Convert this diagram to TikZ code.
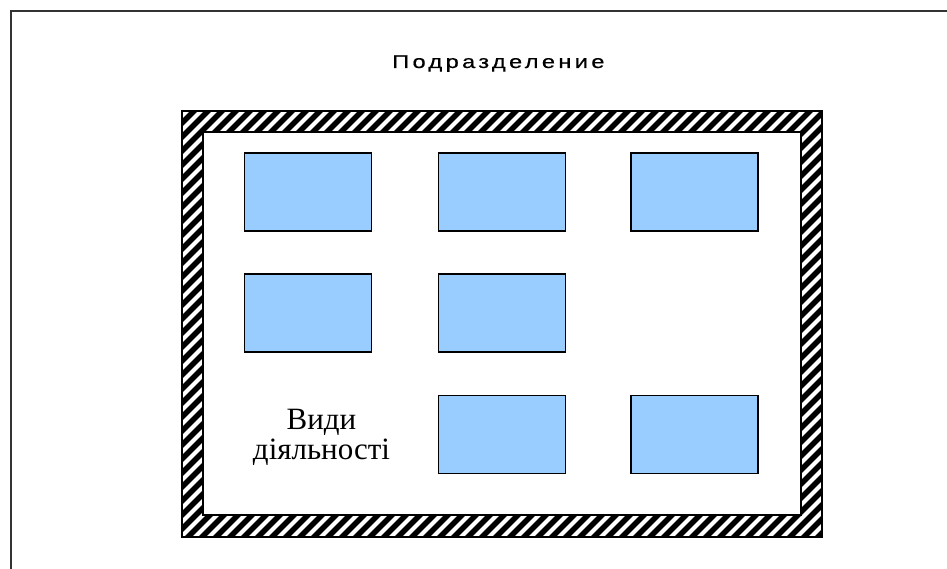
\documentclass[tikz,border=0pt]{standalone}
\usepackage{fontspec}
\usepackage{graphicx}
\setmainfont{Liberation Serif}
\newfontfamily\titlefont[LetterSpace=14, FakeBold=0.5]{Liberation Sans}
\tikzset{
  activity/.style={draw=black, line width=1.8pt, fill=actblue,
    minimum width=127pt, minimum height=78pt, inner sep=0pt},
  wallline/.style={line width=1.4pt, draw=black},
  framebar/.style={line width=2.4pt, draw=framegray},
}
\definecolor{actblue}{HTML}{99CCFF}
\definecolor{framegray}{HTML}{333333}
\begin{document}
\begin{tikzpicture}[x=1pt, y=-1pt]
\useasboundingbox (0,0) rectangle (947,569);
\fill[white] (0,0) rectangle (947,569);

% open page frame (top and left edges)
\draw[framebar] (11,569) -- (11,11) -- (947,11);

% title, set wide
\node[anchor=base west, inner sep=0pt]
  (title) at (392,68) {\scalebox{1.28}[1]{\titlefont\fontsize{18.5}{20}\selectfont Подразделение}};

% hatched wall of the unit
\begin{scope}[even odd rule]
  \clip (182,111) rectangle (822,537) (203,132) rectangle (801,515);
  \foreach \a in {-600,-586,...,960}
    \draw[line width=5.5pt] (\a,569) -- ++(569,-569);
\end{scope}
\draw[wallline] (182,111) rectangle (822,537);
\draw[wallline] (203,132) rectangle (801,515);

% activity blocks
\node[activity] (a11) at (308,192) {};
\node[activity] (a12) at (502,192) {};
\node[activity] (a13) at (694.5,192) {};
\node[activity] (a21) at (308,313) {};
\node[activity] (a22) at (502,313) {};
\node[activity] (a32) at (502,434.5) {};
\node[activity] (a33) at (694.5,434.5) {};

% label
\node[align=center, inner sep=0pt, font=\fontsize{31}{30}\selectfont]
  (label) at (321.5,437) {Види\\діяльності};
\end{tikzpicture}
\end{document}
